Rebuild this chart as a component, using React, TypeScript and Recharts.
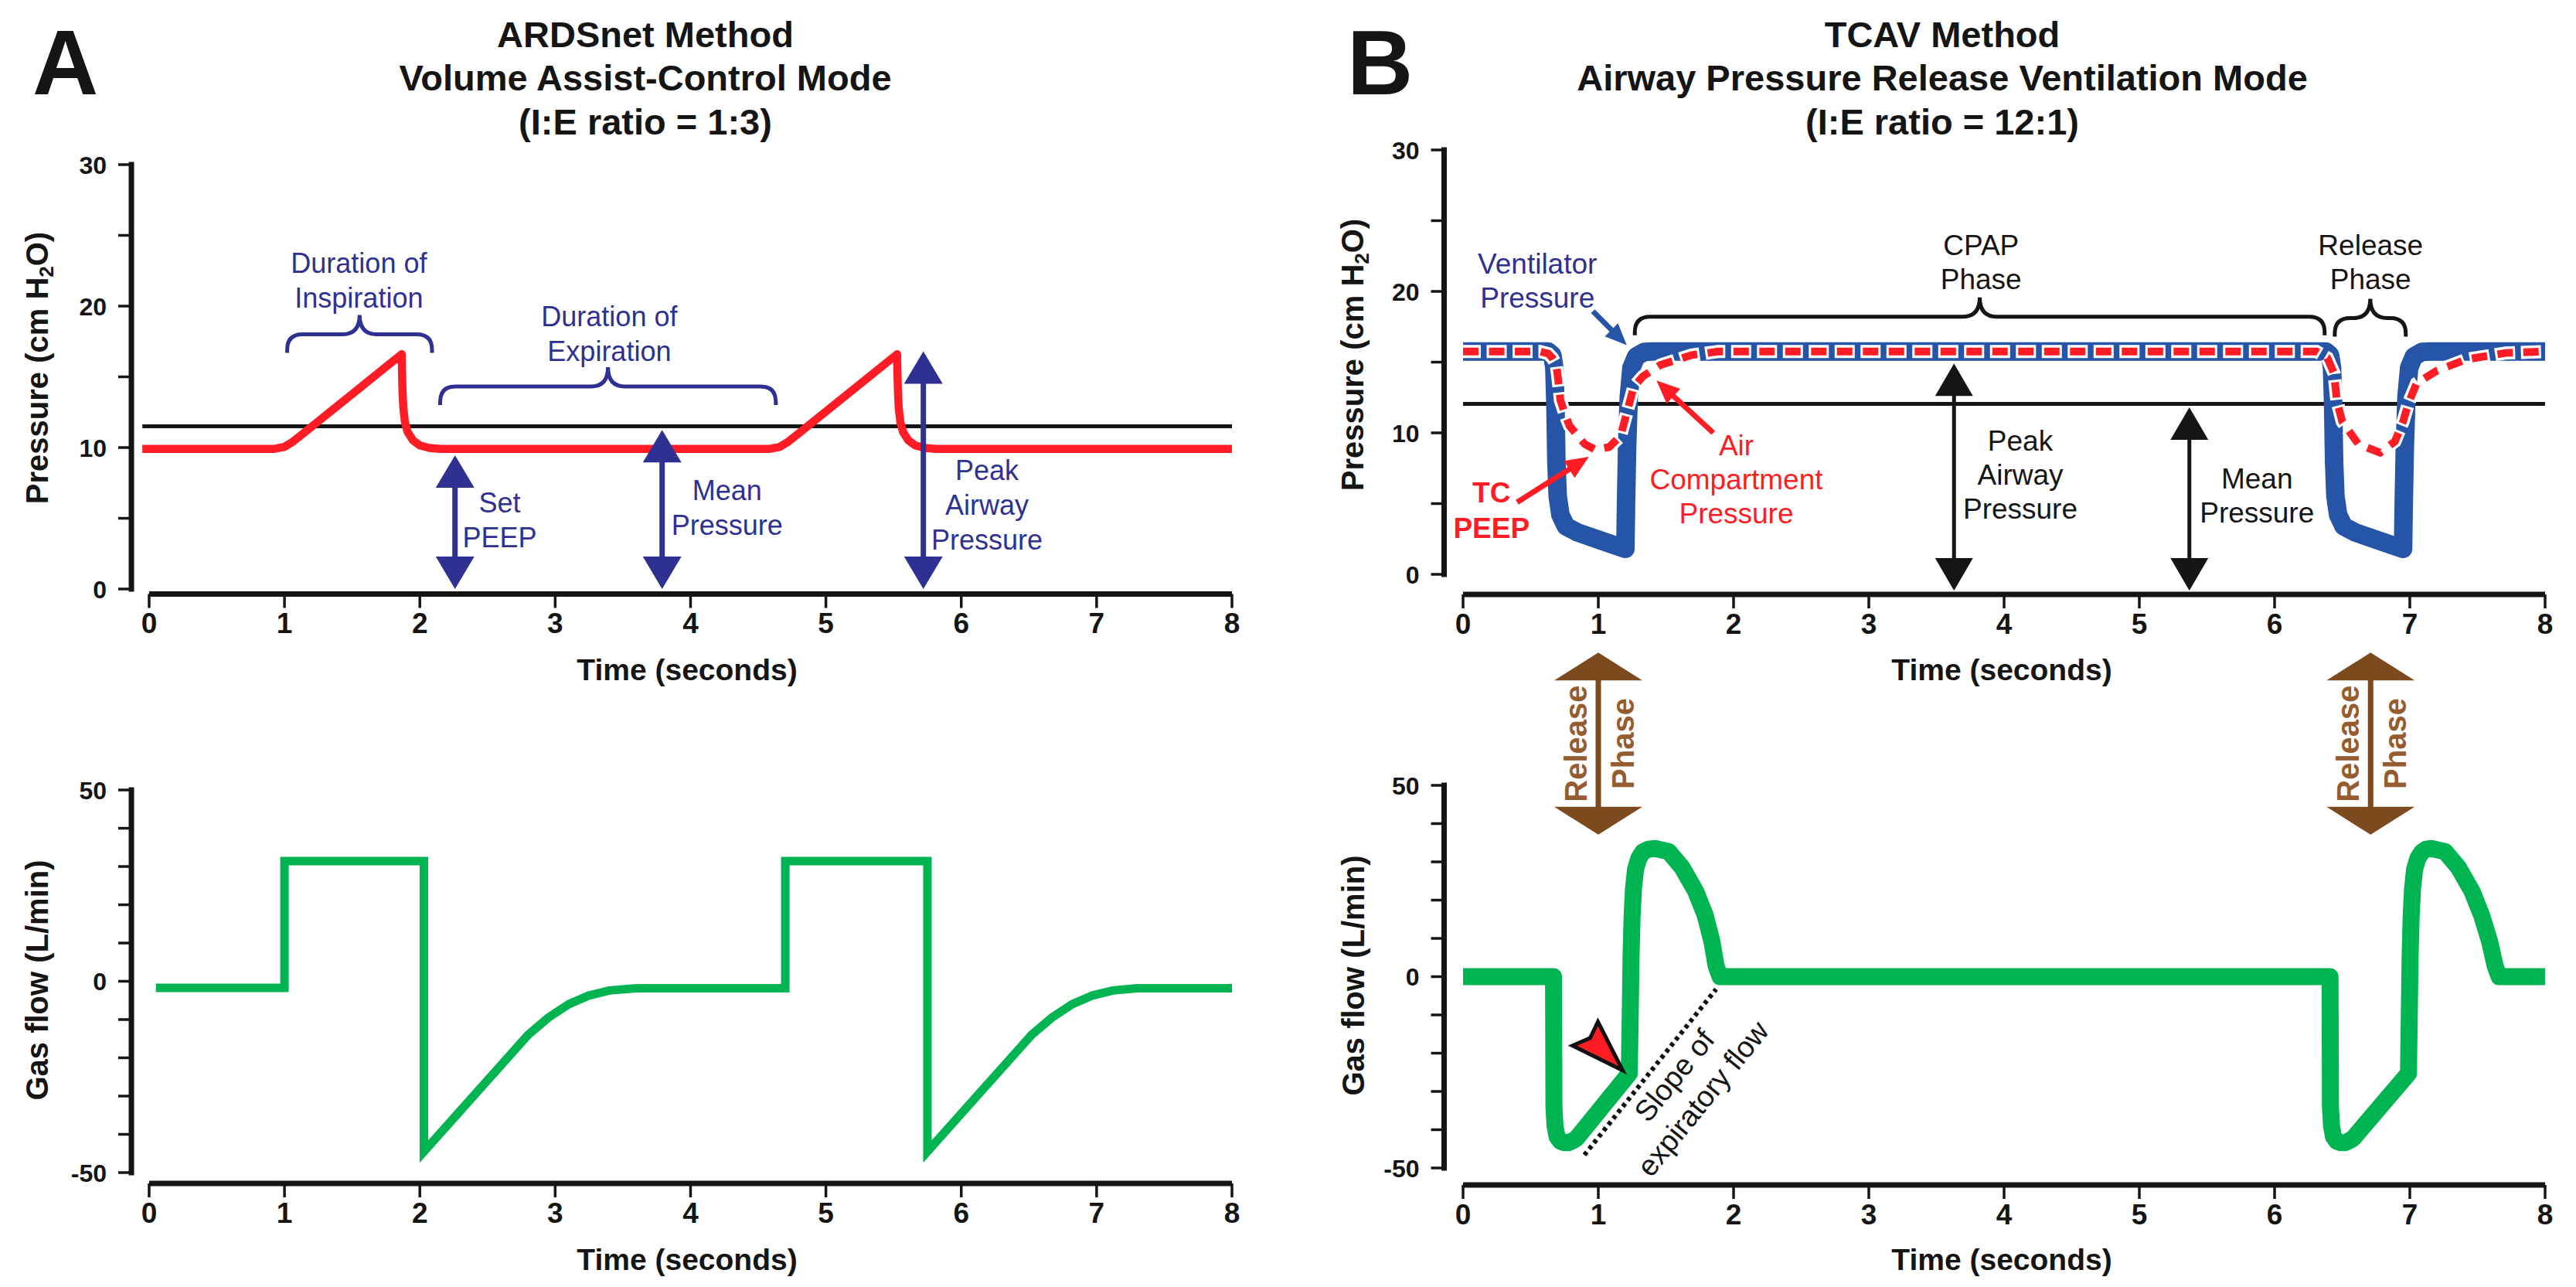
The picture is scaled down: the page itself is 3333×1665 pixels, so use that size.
import React from 'react'
import { LineChart, Line, XAxis, YAxis, ReferenceLine, ReferenceDot } from 'recharts'

const FONT = "'Liberation Sans', Arial, Helvetica, sans-serif"
const INK = '#151515'
const NAVY = '#2E3192'
const RED = '#FF1C24'
const GREEN = '#00B451'
const BLUE = '#2654A6'
const BROWN = '#7B4A1F'
const BROWN_TEXT = '#955C2F'

// ---------- axes ----------
const TIME_TICKS = [0, 1, 2, 3, 4, 5, 6, 7, 8]
const PRESSURE_TICKS = [0, 5, 10, 15, 20, 25, 30]
const PRESSURE_LABELS = [0, 10, 20, 30]
const FLOW_TICKS = [-50, -40, -30, -20, -10, 0, 10, 20, 30, 40, 50]
const FLOW_LABELS = [-50, 0, 50]

// ---------- A: ARDSnet, volume assist-control ----------
const aPressT = [-0.05, 0.92, 1.0, 1.06, 1.12, 1.866, 1.868, 1.872, 1.878, 1.89, 1.91, 1.95, 2.0, 2.07, 2.15, 4.58, 4.66, 4.72, 4.78, 5.526, 5.528, 5.532, 5.538, 5.55, 5.57, 5.61, 5.66, 5.73, 5.81, 8]
const aPressV = [9.9, 9.9, 10.05, 10.4, 10.85, 16.6, 15.5, 14.0, 12.8, 11.8, 11.1, 10.5, 10.15, 9.97, 9.9, 9.9, 10.05, 10.4, 10.85, 16.6, 15.5, 14.0, 12.8, 11.8, 11.1, 10.5, 10.15, 9.97, 9.9, 9.9]
const aMeanT = [-0.05, 8]
const aMeanV = [11.5, 11.5]
const aFlowT = [0.05, 1.0, 1.0, 2.03, 2.03, 2.8, 2.95, 3.1, 3.25, 3.4, 3.6, 4.7, 4.7, 5.75, 5.75, 6.52, 6.67, 6.82, 6.97, 7.12, 7.3, 8.0]
const aFlowV = [-1.7, -1.7, 31.4, 31.4, -44.5, -14, -9.5, -6, -3.7, -2.4, -1.8, -1.8, 31.4, 31.4, -44.5, -14, -9.5, -6, -3.7, -2.4, -1.8, -1.8]

// ---------- B: TCAV, airway pressure release ventilation ----------
const bVentT = [0, 0.63, 0.66, 0.675, 0.683, 0.69, 0.70, 0.72, 0.76, 0.85, 1.0, 1.2, 1.205, 1.213, 1.225, 1.245, 1.28, 1.34, 1.4, 6.38, 6.41, 6.425, 6.433, 6.44, 6.45, 6.47, 6.51, 6.6, 6.75, 6.95, 6.955, 6.963, 6.975, 6.995, 7.03, 7.09, 7.15, 8]
const bVentV = [15.75, 15.75, 15.5, 14.6, 12, 8, 5.5, 4.2, 3.4, 2.95, 2.45, 1.8, 5, 9, 12.5, 14.6, 15.4, 15.72, 15.75, 15.75, 15.5, 14.6, 12, 8, 5.5, 4.2, 3.4, 2.95, 2.45, 1.8, 5, 9, 12.5, 14.6, 15.4, 15.72, 15.75, 15.75]
const bAirT = [0, 0.57, 0.63, 0.66, 0.69, 0.705, 0.72, 0.754, 0.787, 0.85, 0.9, 0.98, 1.08, 1.164, 1.213, 1.262, 1.33, 1.46, 1.69, 1.885, 6.31, 6.39, 6.44, 6.46, 6.5, 6.62, 6.78, 6.89, 6.95, 6.99, 7.05, 7.2, 7.42, 7.71, 8]
const bAirV = [15.75, 15.75, 15.6, 15.3, 14.8, 13.6, 12.3, 11.3, 10.5, 9.77, 9.2, 8.8, 9.0, 9.77, 11.5, 13.25, 14.0, 14.8, 15.5, 15.75, 15.75, 15.3, 14.2, 12.3, 10.8, 9.2, 8.6, 9.4, 10.8, 12.1, 13.5, 14.4, 15.2, 15.65, 15.75]
const bMeanT = [0, 8]
const bMeanV = [12.05, 12.05]
const bFlowT = [0, 0.669, 0.672, 0.68, 0.695, 0.72, 0.75, 0.777, 0.81, 0.838, 1.229, 1.236, 1.242, 1.25, 1.26, 1.275, 1.3, 1.33, 1.37, 1.42, 1.52, 1.62, 1.72, 1.79, 1.84, 1.87, 1.9, 6.41, 6.413, 6.421, 6.435, 6.46, 6.49, 6.52, 6.55, 6.58, 6.99, 6.996, 7.002, 7.01, 7.02, 7.035, 7.06, 7.09, 7.12, 7.16, 7.26, 7.36, 7.46, 7.53, 7.59, 7.63, 7.66, 8]
const bFlowV = [0, 0, -34, -39, -41.8, -43, -43.4, -43.4, -42.9, -42.3, -25.3, -10, 5, 16, 23, 28, 31, 32.6, 33.3, 33.5, 32.7, 28.5, 22.3, 16.1, 9.2, 2.9, 0, 0, -34, -39, -41.8, -43, -43.4, -43.4, -42.9, -42.3, -25.3, -10, 5, 16, 23, 28, 31, 32.6, 33.3, 33.5, 32.7, 28.5, 22.3, 16.1, 9.2, 2.9, 0, 0]

// ---------- annotations (data coordinates) ----------
const aBraces = [{ t1: 1.02, t2: 2.09, p: 16.7 }, { t1: 2.15, t2: 4.63, p: 13.0 }]
const aArrows = [{ t: 2.26, p1: 0, p2: 9.45 }, { t: 3.79, p1: 0, p2: 11.25 }, { t: 5.72, p1: 0, p2: 16.8 }]
const aNotes = [
  { t: 1.55, p: 23.06, lines: ['Duration of', 'Inspiration'] },
  { t: 3.4, p: 19.3, lines: ['Duration of', 'Expiration'] },
  { t: 2.59, p: 6.1, lines: ['Set', 'PEEP'] },
  { t: 4.27, p: 7.0, lines: ['Mean', 'Pressure'] },
  { t: 6.19, p: 8.4, lines: ['Peak', 'Airway', 'Pressure'] },
]

const bBraces = [{ t1: 1.27, t2: 6.37, p: 16.9 }, { t1: 6.445, t2: 6.97, p: 16.8 }]
const bArrows = [{ t: 3.63, p1: -1.15, p2: 14.9 }, { t: 5.37, p1: -1.15, p2: 11.8 }]
const bNotes = [
  { t: 3.83, p: 23.3, lines: ['CPAP', 'Phase'] },
  { t: 6.71, p: 23.3, lines: ['Release', 'Phase'] },
  { t: 4.12, p: 9.45, lines: ['Peak', 'Airway', 'Pressure'] },
  { t: 5.87, p: 6.8, lines: ['Mean', 'Pressure'] },
]
const bVentNote = { t: 0.55, p: 22.0, lines: ['Ventilator', 'Pressure'] }
const bPeepNote = { t: 0.21, p: 5.8, lines: ['TC', 'PEEP'] }
const bAirNote = { t: 2.02, p: 9.15, lines: ['Air', 'Compartment', 'Pressure'] }
const bVentPointer = { t1: 0.96, p1: 18.6, t2: 1.21, p2: 16.2 }
const bRedPointers = [{ t1: 0.4, p1: 5.1, t2: 0.93, p2: 8.3 }, { t1: 1.85, p1: 10.0, t2: 1.43, p2: 13.7 }]
const bRelease = [{ t: 1.0, f1: 37.1, f2: 84.7 }, { t: 6.71, f1: 37.1, f2: 84.7 }]
const RELEASE_WORDS = ['Release', 'Phase']
const bSlope = { t1: 0.897, f1: -46.6, t2: 1.871, f2: -3.25 }
const bSlopeNotes = [{ t: 1.56, f: -25.8, text: 'Slope of' }, { t: 1.77, f: -31.8, text: 'expiratory flow' }]
const bMarker = { t: 1.18, f: -24.5 }

const zip = (ts: number[], vs: number[]) => ts.map((t, i) => ({ t, v: vs[i] }))

// ---------- shapes ----------
const textShape = (lines: string[], size: number, color: string, weight = 400, gap = 45) => (p: any) => (
  <text x={p.cx} y={p.cy} textAnchor="middle" fontFamily={FONT} fontSize={size} fontWeight={weight} fill={color}>
    {lines.map((l, i) => (
      <tspan key={i} x={p.cx} dy={i === 0 ? size * 0.36 : gap}>{l}</tspan>
    ))}
  </text>
)

const rotText = (txt: string, size: number, angle: number) => (p: any) => (
  <text transform={`translate(${p.cx} ${p.cy}) rotate(${angle})`} textAnchor="middle" dy={size * 0.36}
    fontFamily={FONT} fontSize={size} fill={INK}>{txt}</text>
)

const doubleArrow = (color: string, headW: number, headH: number, shaft: number) => (p: any) => {
  const x = p.x1
  const top = Math.min(p.y1, p.y2)
  const bot = Math.max(p.y1, p.y2)
  return (
    <g>
      <line x1={x} x2={x} y1={top + headH - 2} y2={bot - headH + 2} stroke={color} strokeWidth={shaft} />
      <polygon points={`${x},${top} ${x - headW / 2},${top + headH} ${x + headW / 2},${top + headH}`} fill={color} />
      <polygon points={`${x},${bot} ${x - headW / 2},${bot - headH} ${x + headW / 2},${bot - headH}`} fill={color} />
    </g>
  )
}

const releaseArrow = (p: any) => {
  const x = p.x1
  const top = Math.min(p.y1, p.y2)
  const bot = Math.max(p.y1, p.y2)
  const mid = (top + bot) / 2
  return (
    <g>
      {doubleArrow(BROWN, 114, 36, 7)(p)}
      <text transform={`translate(${x - 29} ${mid}) rotate(-90)`} textAnchor="middle" dy={14}
        fontFamily={FONT} fontSize={40} fontWeight={700} fill={BROWN_TEXT}>{RELEASE_WORDS[0]}</text>
      <text transform={`translate(${x + 32} ${mid}) rotate(-90)`} textAnchor="middle" dy={14}
        fontFamily={FONT} fontSize={40} fontWeight={700} fill={BROWN_TEXT}>{RELEASE_WORDS[1]}</text>
    </g>
  )
}

const arrow = (color: string, w: number, headL: number, headW: number) => (p: any) => {
  const dx = p.x2 - p.x1
  const dy = p.y2 - p.y1
  const len = Math.hypot(dx, dy) || 1
  const ux = dx / len
  const uy = dy / len
  const bx = p.x2 - ux * headL
  const by = p.y2 - uy * headL
  const nx = -uy
  const ny = ux
  return (
    <g>
      <line x1={p.x1} y1={p.y1} x2={bx + ux * 2} y2={by + uy * 2} stroke={color} strokeWidth={w} />
      <polygon points={`${p.x2},${p.y2} ${bx + nx * headW / 2},${by + ny * headW / 2} ${bx - nx * headW / 2},${by - ny * headW / 2}`} fill={color} />
    </g>
  )
}

const brace = (color: string, h1 = 24, h2 = 25) => (p: any) => {
  const x1 = Math.min(p.x1, p.x2)
  const x2 = Math.max(p.x1, p.x2)
  const y = p.y1
  const yh = y - h1
  const yt = yh - h2
  const xm = (x1 + x2) / 2
  const r1 = 20
  const r2 = Math.min(22, (x2 - x1) / 4)
  const d = `M${x1},${y} L${x1},${yh + r1} Q${x1},${yh} ${x1 + r1},${yh} L${xm - r2},${yh} Q${xm},${yh} ${xm},${yt} Q${xm},${yh} ${xm + r2},${yh} L${x2 - r1},${yh} Q${x2},${yh} ${x2},${yh + r1} L${x2},${y}`
  return <path d={d} fill="none" stroke={color} strokeWidth={5} />
}

const markerShape = (p: any) => {
  const x = p.cx
  const y = p.cy
  return (
    <polygon points={`${x},${y} ${x - 65},${y - 32} ${x - 42},${y - 42} ${x - 32},${y - 63}`}
      fill={RED} stroke="#111" strokeWidth={5} strokeLinejoin="miter" />
  )
}

// ---------- ticks ----------
const xTick = (p: any) => (
  <text x={p.x} y={p.y} dy="0.72em" textAnchor="middle" fontFamily={FONT} fontWeight={700} fontSize={37} fill={INK}>
    {p.payload.value}
  </text>
)
const yTick = (labels: number[]) => (p: any) =>
  labels.includes(p.payload.value) ? (
    <text x={p.x} y={p.y} dy="0.36em" textAnchor="end" fontFamily={FONT} fontWeight={700} fontSize={32} fill={INK}>
      {String(p.payload.value)}
    </text>
  ) : (
    <g />
  )

const tickLine = { stroke: INK, strokeWidth: 3.5 }
const lineBase = { type: 'linear' as const, dot: false, activeDot: false, isAnimationActive: false, dataKey: 'v' }

export default function App() {
  const aPress = zip(aPressT, aPressV)
  const aMean = zip(aMeanT, aMeanV)
  const aFlow = zip(aFlowT, aFlowV)
  const bVent = zip(bVentT, bVentV)
  const bAir = zip(bAirT, bAirV)
  const bMean = zip(bMeanT, bMeanV)
  const bFlow = zip(bFlowT, bFlowV)

  const axX = (xMin: number) => (
    <XAxis type="number" dataKey="t" domain={[xMin, 8]} allowDataOverflow ticks={TIME_TICKS} interval={0}
      axisLine={false} tickLine={tickLine} tickSize={18} tickMargin={6} tick={xTick} height={60} />
  )
  const axY = (yMin: number, yMax: number, ticks: number[], labels: number[]) => (
    <YAxis type="number" domain={[yMin, yMax]} allowDataOverflow ticks={ticks} interval={0}
      axisLine={false} tickLine={tickLine} tickSize={17} tickMargin={15} tick={yTick(labels)} width={100} />
  )
  // Prism-style detached axis lines
  const axisLines = (xMin: number, yMin: number, y0: number, y1: number) => [
    <ReferenceLine key="ya" segment={[{ x: xMin, y: y0 }, { x: xMin, y: y1 }]} stroke={INK} strokeWidth={7}
      strokeLinecap="square" ifOverflow="visible" />,
    <ReferenceLine key="xa" segment={[{ x: 0, y: yMin }, { x: 8, y: yMin }]} stroke={INK} strokeWidth={7}
      ifOverflow="visible" />,
  ]

  const AX = -0.131
  const BX = -0.14

  return (
    <div style={{ position: 'absolute', left: 0, top: 0, width: 3333, height: 1665, background: '#fff', overflow: 'hidden' }}>
      {/* A top: pressure */}
      <div style={{ position: 'absolute', left: 0, top: 150 }}>
        <LineChart width={1640} height={690} margin={{ top: 63, right: 46, left: 70, bottom: 11.5 }}>
          {axX(AX)}
          {axY(-0.355, 30, PRESSURE_TICKS, PRESSURE_LABELS)}
          {axisLines(AX, -0.355, 0, 30)}
          <Line {...lineBase} data={aMean} stroke={INK} strokeWidth={5} />
          <Line {...lineBase} data={aPress} stroke={RED} strokeWidth={10.5} strokeLinejoin="round" />
          {aBraces.map((b, i) => (
            <ReferenceLine key={'ab' + i} segment={[{ x: b.t1, y: b.p }, { x: b.t2, y: b.p }]} ifOverflow="visible" shape={brace(NAVY)} />
          ))}
          {aArrows.map((a, i) => (
            <ReferenceLine key={'aa' + i} segment={[{ x: a.t, y: a.p1 }, { x: a.t, y: a.p2 }]} ifOverflow="visible" shape={doubleArrow(NAVY, 50, 42, 7)} />
          ))}
          {aNotes.map((n, i) => (
            <ReferenceDot key={'an' + i} x={n.t} y={n.p} r={0} ifOverflow="visible" shape={textShape(n.lines, 36, NAVY)} />
          ))}
        </LineChart>
      </div>

      {/* A bottom: flow */}
      <div style={{ position: 'absolute', left: 0, top: 830 }}>
        <LineChart width={1640} height={835} margin={{ top: 192, right: 46, left: 70, bottom: 74 }}>
          {axX(AX)}
          {axY(-52.83, 50, FLOW_TICKS, FLOW_LABELS)}
          {axisLines(AX, -52.83, -50, 50)}
          <Line {...lineBase} data={aFlow} stroke={GREEN} strokeWidth={11} strokeLinejoin="miter" />
        </LineChart>
      </div>

      {/* B top: pressure */}
      <div style={{ position: 'absolute', left: 1700, top: 150 }}>
        <LineChart width={1633} height={690} margin={{ top: 44, right: 40, left: 68.5, bottom: 11 }}>
          {axX(BX)}
          {axY(-1.42, 30, PRESSURE_TICKS, PRESSURE_LABELS)}
          {axisLines(BX, -1.42, 0, 30)}
          <Line {...lineBase} data={bMean} stroke={INK} strokeWidth={5} />
          <Line {...lineBase} data={bVent} stroke={BLUE} strokeWidth={24} strokeLinejoin="round" />
          <Line {...lineBase} data={bAir} stroke="#fff" strokeWidth={17} strokeDasharray="26 7.5" strokeDashoffset={3} />
          <Line {...lineBase} data={bAir} stroke={RED} strokeWidth={10} strokeDasharray="20 13.5" />
          {bBraces.map((b, i) => (
            <ReferenceLine key={'bb' + i} segment={[{ x: b.t1, y: b.p }, { x: b.t2, y: b.p }]} ifOverflow="visible" shape={brace(INK)} />
          ))}
          {bArrows.map((a, i) => (
            <ReferenceLine key={'ba' + i} segment={[{ x: a.t, y: a.p1 }, { x: a.t, y: a.p2 }]} ifOverflow="visible" shape={doubleArrow(INK, 49, 42, 5)} />
          ))}
          <ReferenceLine segment={[{ x: bVentPointer.t1, y: bVentPointer.p1 }, { x: bVentPointer.t2, y: bVentPointer.p2 }]}
            ifOverflow="visible" shape={arrow(BLUE, 7, 28, 24)} />
          {bRedPointers.map((a, i) => (
            <ReferenceLine key={'br' + i} segment={[{ x: a.t1, y: a.p1 }, { x: a.t2, y: a.p2 }]} ifOverflow="visible" shape={arrow(RED, 7, 30, 26)} />
          ))}
          {bNotes.map((n, i) => (
            <ReferenceDot key={'bn' + i} x={n.t} y={n.p} r={0} ifOverflow="visible" shape={textShape(n.lines, 37, INK, 400, 44)} />
          ))}
          <ReferenceDot x={bVentNote.t} y={bVentNote.p} r={0} ifOverflow="visible" shape={textShape(bVentNote.lines, 37, NAVY, 400, 44)} />
          <ReferenceDot x={bPeepNote.t} y={bPeepNote.p} r={0} ifOverflow="visible" shape={textShape(bPeepNote.lines, 37, RED, 700, 46)} />
          <ReferenceDot x={bAirNote.t} y={bAirNote.p} r={0} ifOverflow="visible" shape={textShape(bAirNote.lines, 37, RED, 400, 44)} />
        </LineChart>
      </div>

      {/* B bottom: flow */}
      <div style={{ position: 'absolute', left: 1700, top: 830 }}>
        <LineChart width={1633} height={835} margin={{ top: 186, right: 40, left: 68.5, bottom: 72 }}>
          {axX(BX)}
          {axY(-54.44, 50, FLOW_TICKS, FLOW_LABELS)}
          {axisLines(BX, -54.44, -50, 50)}
          <ReferenceLine segment={[{ x: bSlope.t1, y: bSlope.f1 }, { x: bSlope.t2, y: bSlope.f2 }]} ifOverflow="visible"
            stroke="#111" strokeWidth={6} strokeDasharray="5 5" />
          <Line {...lineBase} data={bFlow} stroke={GREEN} strokeWidth={22} strokeLinejoin="round" />
          {bRelease.map((r, i) => (
            <ReferenceLine key={'rl' + i} segment={[{ x: r.t, y: r.f1 }, { x: r.t, y: r.f2 }]} ifOverflow="visible" shape={releaseArrow} />
          ))}
          {bSlopeNotes.map((n, i) => (
            <ReferenceDot key={'sn' + i} x={n.t} y={n.f} r={0} ifOverflow="visible" shape={rotText(n.text, 38, -51)} />
          ))}
          <ReferenceDot x={bMarker.t} y={bMarker.f} r={0} ifOverflow="visible" shape={markerShape} />
        </LineChart>
      </div>

      {/* titles and axis titles */}
      <svg width={3333} height={1665} style={{ position: 'absolute', left: 0, top: 0, pointerEvents: 'none' }}>
        <g fontFamily={FONT} fontWeight={700} fill={INK}>
          <text x={42} y={122} fontSize={118}>A</text>
          <text x={1743} y={122} fontSize={118}>B</text>
          <g fontSize={47} textAnchor="middle">
            <text x={835} y={61}>ARDSnet Method</text>
            <text x={835} y={117}>Volume Assist-Control Mode</text>
            <text x={835} y={174}>(I:E ratio = 1:3)</text>
            <text x={2513} y={61}>TCAV Method</text>
            <text x={2513} y={117}>Airway Pressure Release Ventilation Mode</text>
            <text x={2513} y={174}>(I:E ratio = 12:1)</text>
          </g>
          <g fontSize={39} textAnchor="middle">
            <text x={889} y={880}>Time (seconds)</text>
            <text x={889} y={1643}>Time (seconds)</text>
            <text x={2590} y={880}>Time (seconds)</text>
            <text x={2590} y={1643}>Time (seconds)</text>
          </g>
          <g fontSize={40} textAnchor="middle">
            <text transform="translate(48 476) rotate(-90)" dy={14}>
              Pressure (cm H<tspan fontSize={26} dy={7}>2</tspan><tspan dy={-7}>O)</tspan>
            </text>
            <text transform="translate(48 1268) rotate(-90)" dy={14}>Gas flow (L/min)</text>
            <text transform="translate(1750 459) rotate(-90)" dy={14}>
              Pressure (cm H<tspan fontSize={26} dy={7}>2</tspan><tspan dy={-7}>O)</tspan>
            </text>
            <text transform="translate(1751 1262) rotate(-90)" dy={14}>Gas flow (L/min)</text>
          </g>
        </g>
      </svg>
    </div>
  )
}
